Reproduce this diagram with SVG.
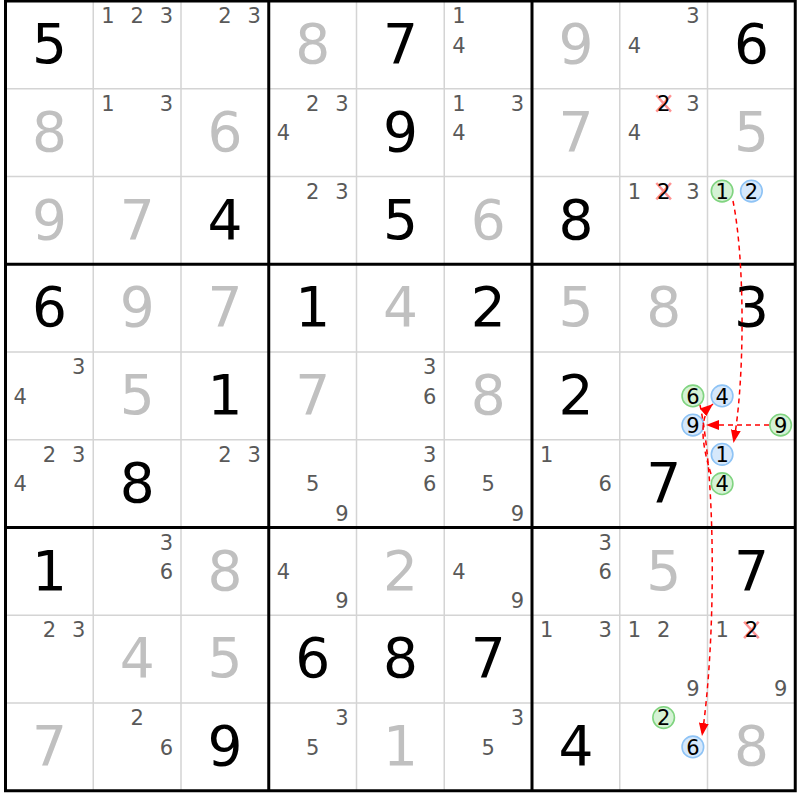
<svg xmlns="http://www.w3.org/2000/svg" width="800" height="800" viewBox="0 0 800 800">
<style>
text{font-family:"DejaVu Sans",Verdana,sans-serif;text-anchor:middle}
.g{font-size:55px;fill:#000}
.s{font-size:55px;fill:#c0c0c0}
.c{font-size:21px;fill:#595959}
.k{font-size:21px;fill:#000}
.thin{stroke:#d4d4d4;stroke-width:1.5}
.thick{stroke:#000;stroke-width:3}
.cg{fill:#d5f2d5;stroke:#80d480;stroke-width:1.6}
.cb{fill:#d6e8fb;stroke:#8ec3f5;stroke-width:1.6}
.x{stroke:#ff8080;stroke-width:2.5;stroke-opacity:0.85}
.link{fill:none;stroke:#ff0000;stroke-width:1.5;stroke-dasharray:5 4;marker-end:url(#ah)}
</style>
<defs>
<marker id="ah" viewBox="0 0 13 10" refX="13" refY="5" markerWidth="13" markerHeight="10" markerUnits="userSpaceOnUse" orient="auto"><path d="M0,0 L13,5 L0,10 z" fill="#ff0000"/></marker>
</defs>
<rect x="0" y="0" width="800" height="800" fill="#fff"/>
<g id="grid">
<path class="thin" d="M93.25,1V790.75M181,1V790.75M356.5,1V790.75M444.25,1V790.75M619.75,1V790.75M707.5,1V790.75M5.5,88.75H795.25M5.5,176.5H795.25M5.5,352H795.25M5.5,439.75H795.25M5.5,615.25H795.25M5.5,703H795.25"/>
<path class="thick" d="M268.75,1V790.75M532,1V790.75M5.5,264.25H795.25M5.5,527.5H795.25"/>
<rect class="thick" x="5.5" y="1" width="789.75" height="789.75" fill="none"/>
</g>
<!-- row 0 -->
<g id="r0c0" transform="translate(5.5,1)"><text class="g" x="43.9" y="62">5</text></g>
<g id="r0c1" transform="translate(93.25,1)"><text class="c" x="14.6" y="22.2">1</text><text class="c" x="43.9" y="22.2">2</text><text class="c" x="73.1" y="22.2">3</text></g>
<g id="r0c2" transform="translate(181,1)"><text class="c" x="43.9" y="22.2">2</text><text class="c" x="73.1" y="22.2">3</text></g>
<g id="r0c3" transform="translate(268.75,1)"><text class="s" x="43.9" y="62">8</text></g>
<g id="r0c4" transform="translate(356.5,1)"><text class="g" x="43.9" y="62">7</text></g>
<g id="r0c5" transform="translate(444.25,1)"><text class="c" x="14.6" y="22.2">1</text><text class="c" x="14.6" y="51.5">4</text></g>
<g id="r0c6" transform="translate(532,1)"><text class="s" x="43.9" y="62">9</text></g>
<g id="r0c7" transform="translate(619.75,1)"><text class="c" x="73.1" y="22.2">3</text><text class="c" x="14.6" y="51.5">4</text></g>
<g id="r0c8" transform="translate(707.5,1)"><text class="g" x="43.9" y="62">6</text></g>
<!-- row 1 -->
<g id="r1c0" transform="translate(5.5,88.75)"><text class="s" x="43.9" y="62">8</text></g>
<g id="r1c1" transform="translate(93.25,88.75)"><text class="c" x="14.6" y="22.2">1</text><text class="c" x="73.1" y="22.2">3</text></g>
<g id="r1c2" transform="translate(181,88.75)"><text class="s" x="43.9" y="62">6</text></g>
<g id="r1c3" transform="translate(268.75,88.75)"><text class="c" x="43.9" y="22.2">2</text><text class="c" x="73.1" y="22.2">3</text><text class="c" x="14.6" y="51.5">4</text></g>
<g id="r1c4" transform="translate(356.5,88.75)"><text class="g" x="43.9" y="62">9</text></g>
<g id="r1c5" transform="translate(444.25,88.75)"><text class="c" x="14.6" y="22.2">1</text><text class="c" x="73.1" y="22.2">3</text><text class="c" x="14.6" y="51.5">4</text></g>
<g id="r1c6" transform="translate(532,88.75)"><text class="s" x="43.9" y="62">7</text></g>
<g id="r1c7" transform="translate(619.75,88.75)"><path class="x" d="M36.6,6.5L51.2,22.8M51.2,6.5L36.6,22.8"/><text class="k" x="43.9" y="22.2">2</text><text class="c" x="73.1" y="22.2">3</text><text class="c" x="14.6" y="51.5">4</text></g>
<g id="r1c8" transform="translate(707.5,88.75)"><text class="s" x="43.9" y="62">5</text></g>
<!-- row 2 -->
<g id="r2c0" transform="translate(5.5,176.5)"><text class="s" x="43.9" y="62">9</text></g>
<g id="r2c1" transform="translate(93.25,176.5)"><text class="s" x="43.9" y="62">7</text></g>
<g id="r2c2" transform="translate(181,176.5)"><text class="g" x="43.9" y="62">4</text></g>
<g id="r2c3" transform="translate(268.75,176.5)"><text class="c" x="43.9" y="22.2">2</text><text class="c" x="73.1" y="22.2">3</text></g>
<g id="r2c4" transform="translate(356.5,176.5)"><text class="g" x="43.9" y="62">5</text></g>
<g id="r2c5" transform="translate(444.25,176.5)"><text class="s" x="43.9" y="62">6</text></g>
<g id="r2c6" transform="translate(532,176.5)"><text class="g" x="43.9" y="62">8</text></g>
<g id="r2c7" transform="translate(619.75,176.5)"><text class="c" x="14.6" y="22.2">1</text><path class="x" d="M36.6,6.5L51.2,22.8M51.2,6.5L36.6,22.8"/><text class="k" x="43.9" y="22.2">2</text><text class="c" x="73.1" y="22.2">3</text></g>
<g id="r2c8" transform="translate(707.5,176.5)"><circle class="cg" cx="14.6" cy="14.6" r="10.8"/><text class="k" x="14.6" y="22.2">1</text><circle class="cb" cx="43.9" cy="14.6" r="10.8"/><text class="k" x="43.9" y="22.2">2</text></g>
<!-- row 3 -->
<g id="r3c0" transform="translate(5.5,264.25)"><text class="g" x="43.9" y="62">6</text></g>
<g id="r3c1" transform="translate(93.25,264.25)"><text class="s" x="43.9" y="62">9</text></g>
<g id="r3c2" transform="translate(181,264.25)"><text class="s" x="43.9" y="62">7</text></g>
<g id="r3c3" transform="translate(268.75,264.25)"><text class="g" x="43.9" y="62">1</text></g>
<g id="r3c4" transform="translate(356.5,264.25)"><text class="s" x="43.9" y="62">4</text></g>
<g id="r3c5" transform="translate(444.25,264.25)"><text class="g" x="43.9" y="62">2</text></g>
<g id="r3c6" transform="translate(532,264.25)"><text class="s" x="43.9" y="62">5</text></g>
<g id="r3c7" transform="translate(619.75,264.25)"><text class="s" x="43.9" y="62">8</text></g>
<g id="r3c8" transform="translate(707.5,264.25)"><text class="g" x="43.9" y="62">3</text></g>
<!-- row 4 -->
<g id="r4c0" transform="translate(5.5,352)"><text class="c" x="73.1" y="22.2">3</text><text class="c" x="14.6" y="51.5">4</text></g>
<g id="r4c1" transform="translate(93.25,352)"><text class="s" x="43.9" y="62">5</text></g>
<g id="r4c2" transform="translate(181,352)"><text class="g" x="43.9" y="62">1</text></g>
<g id="r4c3" transform="translate(268.75,352)"><text class="s" x="43.9" y="62">7</text></g>
<g id="r4c4" transform="translate(356.5,352)"><text class="c" x="73.1" y="22.2">3</text><text class="c" x="73.1" y="51.5">6</text></g>
<g id="r4c5" transform="translate(444.25,352)"><text class="s" x="43.9" y="62">8</text></g>
<g id="r4c6" transform="translate(532,352)"><text class="g" x="43.9" y="62">2</text></g>
<g id="r4c7" transform="translate(619.75,352)"><circle class="cg" cx="73.1" cy="43.9" r="10.8"/><text class="k" x="73.1" y="51.5">6</text><circle class="cb" cx="73.1" cy="73.1" r="10.8"/><text class="k" x="73.1" y="80.8">9</text></g>
<g id="r4c8" transform="translate(707.5,352)"><circle class="cb" cx="14.6" cy="43.9" r="10.8"/><text class="k" x="14.6" y="51.5">4</text><circle class="cg" cx="73.1" cy="73.1" r="10.8"/><text class="k" x="73.1" y="80.8">9</text></g>
<!-- row 5 -->
<g id="r5c0" transform="translate(5.5,439.75)"><text class="c" x="43.9" y="22.2">2</text><text class="c" x="73.1" y="22.2">3</text><text class="c" x="14.6" y="51.5">4</text></g>
<g id="r5c1" transform="translate(93.25,439.75)"><text class="g" x="43.9" y="62">8</text></g>
<g id="r5c2" transform="translate(181,439.75)"><text class="c" x="43.9" y="22.2">2</text><text class="c" x="73.1" y="22.2">3</text></g>
<g id="r5c3" transform="translate(268.75,439.75)"><text class="c" x="43.9" y="51.5">5</text><text class="c" x="73.1" y="80.8">9</text></g>
<g id="r5c4" transform="translate(356.5,439.75)"><text class="c" x="73.1" y="22.2">3</text><text class="c" x="73.1" y="51.5">6</text></g>
<g id="r5c5" transform="translate(444.25,439.75)"><text class="c" x="43.9" y="51.5">5</text><text class="c" x="73.1" y="80.8">9</text></g>
<g id="r5c6" transform="translate(532,439.75)"><text class="c" x="14.6" y="22.2">1</text><text class="c" x="73.1" y="51.5">6</text></g>
<g id="r5c7" transform="translate(619.75,439.75)"><text class="g" x="43.9" y="62">7</text></g>
<g id="r5c8" transform="translate(707.5,439.75)"><circle class="cb" cx="14.6" cy="14.6" r="10.8"/><text class="k" x="14.6" y="22.2">1</text><circle class="cg" cx="14.6" cy="43.9" r="10.8"/><text class="k" x="14.6" y="51.5">4</text></g>
<!-- row 6 -->
<g id="r6c0" transform="translate(5.5,527.5)"><text class="g" x="43.9" y="62">1</text></g>
<g id="r6c1" transform="translate(93.25,527.5)"><text class="c" x="73.1" y="22.2">3</text><text class="c" x="73.1" y="51.5">6</text></g>
<g id="r6c2" transform="translate(181,527.5)"><text class="s" x="43.9" y="62">8</text></g>
<g id="r6c3" transform="translate(268.75,527.5)"><text class="c" x="14.6" y="51.5">4</text><text class="c" x="73.1" y="80.8">9</text></g>
<g id="r6c4" transform="translate(356.5,527.5)"><text class="s" x="43.9" y="62">2</text></g>
<g id="r6c5" transform="translate(444.25,527.5)"><text class="c" x="14.6" y="51.5">4</text><text class="c" x="73.1" y="80.8">9</text></g>
<g id="r6c6" transform="translate(532,527.5)"><text class="c" x="73.1" y="22.2">3</text><text class="c" x="73.1" y="51.5">6</text></g>
<g id="r6c7" transform="translate(619.75,527.5)"><text class="s" x="43.9" y="62">5</text></g>
<g id="r6c8" transform="translate(707.5,527.5)"><text class="g" x="43.9" y="62">7</text></g>
<!-- row 7 -->
<g id="r7c0" transform="translate(5.5,615.25)"><text class="c" x="43.9" y="22.2">2</text><text class="c" x="73.1" y="22.2">3</text></g>
<g id="r7c1" transform="translate(93.25,615.25)"><text class="s" x="43.9" y="62">4</text></g>
<g id="r7c2" transform="translate(181,615.25)"><text class="s" x="43.9" y="62">5</text></g>
<g id="r7c3" transform="translate(268.75,615.25)"><text class="g" x="43.9" y="62">6</text></g>
<g id="r7c4" transform="translate(356.5,615.25)"><text class="g" x="43.9" y="62">8</text></g>
<g id="r7c5" transform="translate(444.25,615.25)"><text class="g" x="43.9" y="62">7</text></g>
<g id="r7c6" transform="translate(532,615.25)"><text class="c" x="14.6" y="22.2">1</text><text class="c" x="73.1" y="22.2">3</text></g>
<g id="r7c7" transform="translate(619.75,615.25)"><text class="c" x="14.6" y="22.2">1</text><text class="c" x="43.9" y="22.2">2</text><text class="c" x="73.1" y="80.8">9</text></g>
<g id="r7c8" transform="translate(707.5,615.25)"><text class="c" x="14.6" y="22.2">1</text><path class="x" d="M36.6,6.5L51.2,22.8M51.2,6.5L36.6,22.8"/><text class="k" x="43.9" y="22.2">2</text><text class="c" x="73.1" y="80.8">9</text></g>
<!-- row 8 -->
<g id="r8c0" transform="translate(5.5,703)"><text class="s" x="43.9" y="62">7</text></g>
<g id="r8c1" transform="translate(93.25,703)"><text class="c" x="43.9" y="22.2">2</text><text class="c" x="73.1" y="51.5">6</text></g>
<g id="r8c2" transform="translate(181,703)"><text class="g" x="43.9" y="62">9</text></g>
<g id="r8c3" transform="translate(268.75,703)"><text class="c" x="73.1" y="22.2">3</text><text class="c" x="43.9" y="51.5">5</text></g>
<g id="r8c4" transform="translate(356.5,703)"><text class="s" x="43.9" y="62">1</text></g>
<g id="r8c5" transform="translate(444.25,703)"><text class="c" x="73.1" y="22.2">3</text><text class="c" x="43.9" y="51.5">5</text></g>
<g id="r8c6" transform="translate(532,703)"><text class="g" x="43.9" y="62">4</text></g>
<g id="r8c7" transform="translate(619.75,703)"><circle class="cg" cx="43.9" cy="14.6" r="10.8"/><text class="k" x="43.9" y="22.2">2</text><circle class="cb" cx="73.1" cy="43.9" r="10.8"/><text class="k" x="73.1" y="51.5">6</text></g>
<g id="r8c8" transform="translate(707.5,703)"><text class="s" x="43.9" y="62">8</text></g>
<g id="connectors">
<path class="link" d="M733,201 C745,260 745,380 733.5,443"/>
<path class="link" d="M769,425 L706,425"/>
<path class="link" d="M711,474 Q694,420 713,404"/>
<path class="link" d="M700,405 C716,480 716,640 702,736"/>
</g>
</svg>
